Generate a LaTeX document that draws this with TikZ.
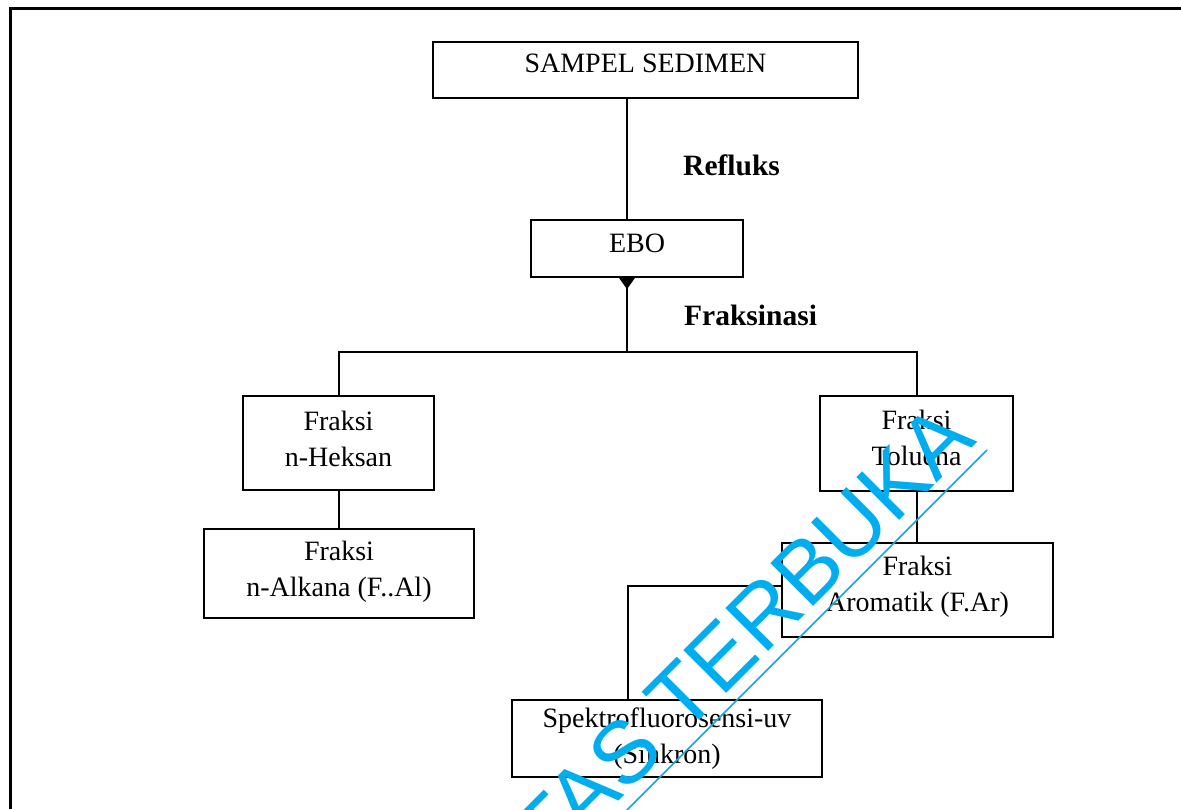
\documentclass[tikz,border=0pt]{standalone}
\usepackage{fontspec}
\setmainfont{Liberation Serif}
\newfontfamily\wmfont{Liberation Sans}
\usetikzlibrary{arrows.meta}
\definecolor{wmcyan}{RGB}{0,174,239}
\newcommand{\dstr}[1]{\rule[-#1]{0pt}{#1}}
\begin{document}
\begin{tikzpicture}[x=1pt,y=-1pt,
  box/.style={draw, rectangle, inner sep=0pt, align=center, line width=2.4pt,
              font=\fontsize{28}{36}\selectfont},
  lbl/.style={font=\bfseries\fontsize{29.5}{34}\selectfont, anchor=base west, inner sep=0pt},
  conn/.style={line width=2pt},
  frame/.style={line width=3pt},
  wmtext/.style={font=\wmfont\fontsize{88}{88}\selectfont, text=wmcyan, rotate=45,
                 anchor=base east, inner sep=0pt},
  wmline/.style={draw=wmcyan, line width=1.6pt}]
\useasboundingbox (0,0) rectangle (1181,809);
\clip (0,0) rectangle (1181,809);
\fill[white] (0,0) rectangle (1181,809);
% outer frame
\coordinate (frTR) at (1181,8);
\coordinate (frTL) at (10,8);
\coordinate (frBL) at (10,809);
\draw[frame] (frTR) -- (frTL) -- (frBL);
% boxes
\node[box, minimum width=425pt, minimum height=56pt] (sampel) at (645.5,70) {SAMPEL SEDIMEN\dstr{14pt}};
\node[box, minimum width=212pt, minimum height=57pt] (ebo) at (637,248.5) {EBO\dstr{11.5pt}};
\node[box, minimum width=191pt, minimum height=94pt] (heksan) at (338.5,443) {Fraksi\\n-Heksan\dstr{9pt}};
\node[box, minimum width=270pt, minimum height=89pt] (alkana) at (339,573.5) {Fraksi\\n-Alkana (F..Al)\dstr{10pt}};
\node[box, minimum width=193pt, minimum height=95pt] (toluena) at (916.5,443.5) {Fraksi\\Toluena\dstr{12pt}};
\node[box, minimum width=271pt, minimum height=94pt] (aromatik) at (917.5,590) {Fraksi\\Aromatik (F.Ar)\dstr{13pt}};
\node[box, minimum width=310pt, minimum height=77pt] (spektro) at (667,738.5) {Spektrofluorosensi-uv\\(Sinkron)};
% labels
\node[lbl] (refluks) at (683,175) {Refluks};
\node[lbl] (fraksinasi) at (684,325) {Fraksinasi};
% connectors
\coordinate (spine) at (627,352);
\coordinate (sp) at (628,586);
\draw[conn] (sampel.south -| spine) -- (ebo.north -| spine);
\draw[conn, {Triangle[reversed, width=15pt, length=11pt]}-] (ebo.south -| spine) -- (spine);
\draw[conn] (heksan.north) -- (heksan.north |- spine) -- (toluena.north |- spine) -- (toluena.north);
\draw[conn] (heksan.south) -- (heksan.south |- alkana.north);
\draw[conn] (toluena.south) -- (toluena.south |- aromatik.north);
\draw[conn] (aromatik.west |- sp) -- (sp) -- (sp |- spektro.north);
% watermark
\node[wmtext] (wm) at (978,442) {UNIVERSITAS TERBUKA};
\coordinate (wlA) at (987,450);
\coordinate (wlB) at (560,877);
\draw[wmline] (wlA) -- (wlB);
\end{tikzpicture}
\end{document}
